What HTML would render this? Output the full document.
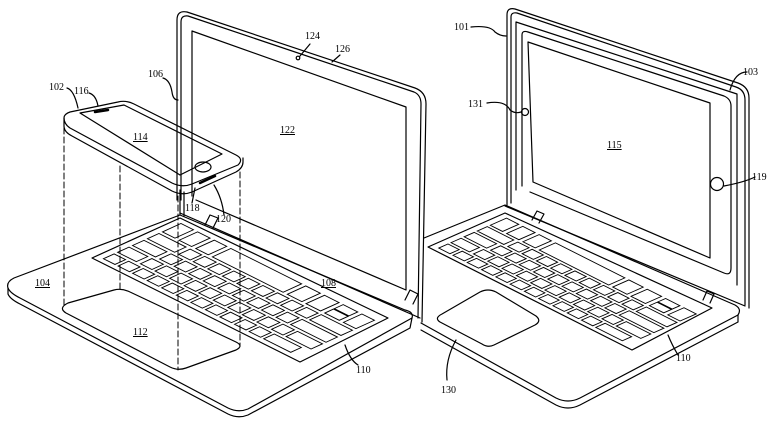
<!DOCTYPE html>
<html><head><style>
html,body{margin:0;padding:0;background:#fff;}
svg{display:block}
text{font-family:"Liberation Serif",serif;font-size:10px;fill:#000}
</style></head><body>
<svg width="780" height="430" viewBox="0 0 780 430" xmlns="http://www.w3.org/2000/svg">
<g fill="none" stroke="#000" stroke-width="1.2" stroke-linejoin="round" stroke-linecap="round">
<!-- RIGHT LAPTOP base (behind left lid) -->
<path d="M424 238 L505 205 L735 305 Q742 309 738 315 L580 398 Q568 404 556 398 L421 323"/>
<path d="M421 330 L556 405 Q568 411 580 405 L738 322 L738 315"/>
<path d="M505 206 L745 306"/>
<path d="M532 220 L537 211 L544 214 L539 223"/>
<path d="M703 300 L707 291 L714 294 L710 303"/>
<path d="M428 247 L505 213 L712 308 L632 350 Z"/>
<path d="M442 314 L480 292 Q488 288 496 292 L536 316 Q542 321 535 325 L494 345 Q488 348 482 344 L440 322 Q434 318 442 314 Z"/>
<!-- RIGHT LAPTOP lid -->
<path d="M507 205 L507 15 Q507 7 515 9 L738 83 Q749 87 749 98 L749 308"/>
<path d="M511 203 L511 17 Q511 12 517 13 L736 87 Q745 90 745 100 L745 305"/>
<path d="M516 190 L516 22 L737 94 L737 285"/>
<path d="M522 186 L522 35 Q522 30 528 32 L724 96 Q731 99 731 106 L731 268 Q731 276 724 273 L530 192"/>
<path d="M528 42 L710 103 L710 258 L533 182 Z"/>
<circle cx="525" cy="112" r="3.5"/>
<circle cx="717" cy="184" r="6.5"/>

<!-- LEFT LAPTOP lid -->
<path d="M177 200 L177 20 Q177 10 187 12 L415 88 Q426 92 426 104 L422 322" fill="#fff"/>
<path d="M181 200 L181 22 Q181 15 188 16 L414 92 Q421 95 421 104 L418 318"/>
<path d="M192 196 L192 31 L406 107 L406 290 L196 200"/>
<!-- left base -->
<path d="M180 215 L14 278 Q6 282 8 288 L8 294 Q10 299 20 304 L228 414 Q238 419 248 415 L410 328 L412 318 Q414 312 405 310 L180 215"/>
<path d="M8 288 Q10 293 20 298 L228 408 Q238 413 248 409 L412 318"/>
<path d="M180 213 L420 318"/>
<path d="M205 225 L210 215 L218 218 L213 228"/>
<path d="M405 300 L410 290 L418 294 L413 304"/>
<path d="M92 258 L180 218 L388 318 L300 362 Z"/>
<path d="M68 303 L114 290 Q122 288 130 292 L236 342 Q244 346 236 350 L186 368 Q178 371 170 367 L66 313 Q58 308 68 303 Z"/>
<!-- phone -->
<path d="M70 112 L118 102 Q126 100 134 104 L236 155 Q244 159 238 165 L192 184 Q182 188 172 183 L70 128 Q64 124 64 118 Q64 114 70 112 Z"/>
<path d="M64 118 L64 126 Q64 132 72 136 L172 191 Q182 196 192 192 L236 172 Q243 168 243 162 L243 158"/>
<path d="M80 113 L124 105 L222 154 L180 175 Z"/>
<ellipse cx="203" cy="167" rx="8" ry="5"/>
<path d="M95 112 L108 110" stroke-width="2.5"/>
<path d="M200 183 L215 176" stroke-width="2.5"/>
<path d="M180 190 L180 215 M184 192 L184 216"/>
<g stroke-dasharray="6 3" stroke-width="1">
<path d="M64 128 L64 305"/><path d="M120 166 L120 290"/><path d="M178 196 L178 370"/><path d="M240 172 L240 345"/>
</g>
<!-- leaders left -->
<path d="M67 88 Q74 90 78 108"/><path d="M89 93 Q96 95 98 106"/>
<path d="M163 78 Q170 80 172 92 Q173 100 178 100"/>
<path d="M310 44 L300 56"/><path d="M340 55 L332 62"/>
<path d="M192 203 L195 188"/><path d="M224 215 Q222 198 214 185"/>
<path d="M358 365 Q350 360 345 345"/>
<circle cx="298" cy="58" r="1.8"/>
<!-- leaders right -->
<path d="M471 27 Q490 25 495 32 Q500 36 506 36"/>
<path d="M747 72 Q735 72 730 90"/>
<path d="M487 103 Q505 100 510 110 Q515 114 521 112"/>
<path d="M755 177 Q745 182 724 186"/>
<path d="M678 355 Q672 345 668 335"/>
<path d="M447 380 Q445 360 456 340"/>
</g>

<g transform="matrix(88,-40,208,104,92,258)" fill="none" stroke="#000">
<path id="kp" stroke-width="0.9" vector-effect="non-scaling-stroke" d="
M0.06 0.03h0.12v0.055h-0.12z M0.06 0.10h0.12v0.055h-0.12z M0.06 0.17h0.12v0.055h-0.12z M0.06 0.24h0.12v0.055h-0.12z M0.06 0.31h0.12v0.055h-0.12z M0.06 0.38h0.12v0.055h-0.12z M0.06 0.45h0.12v0.055h-0.12z M0.06 0.52h0.12v0.055h-0.12z M0.06 0.59h0.12v0.055h-0.12z M0.06 0.66h0.12v0.055h-0.12z M0.06 0.73h0.12v0.055h-0.12z M0.06 0.80h0.12v0.13h-0.12z
M0.22 0.03h0.13v0.09h-0.13z M0.22 0.14h0.13v0.055h-0.13z M0.22 0.21h0.13v0.055h-0.13z M0.22 0.28h0.13v0.055h-0.13z M0.22 0.35h0.13v0.055h-0.13z M0.22 0.42h0.13v0.055h-0.13z M0.22 0.49h0.13v0.055h-0.13z M0.22 0.56h0.13v0.055h-0.13z M0.22 0.63h0.13v0.055h-0.13z M0.22 0.70h0.13v0.055h-0.13z M0.22 0.77h0.13v0.055h-0.13z M0.22 0.84h0.13v0.12h-0.13z
M0.39 0.03h0.13v0.11h-0.13z M0.39 0.16h0.13v0.055h-0.13z M0.39 0.23h0.13v0.055h-0.13z M0.39 0.30h0.13v0.055h-0.13z M0.39 0.37h0.13v0.055h-0.13z M0.39 0.44h0.13v0.055h-0.13z M0.39 0.51h0.13v0.055h-0.13z M0.39 0.58h0.13v0.055h-0.13z M0.39 0.65h0.13v0.055h-0.13z M0.39 0.72h0.13v0.055h-0.13z M0.39 0.79h0.13v0.17h-0.13z
M0.56 0.03h0.13v0.13h-0.13z M0.56 0.18h0.13v0.055h-0.13z M0.56 0.25h0.13v0.055h-0.13z M0.56 0.32h0.13v0.055h-0.13z M0.56 0.39h0.13v0.055h-0.13z M0.56 0.46h0.13v0.055h-0.13z M0.56 0.53h0.13v0.055h-0.13z M0.56 0.60h0.13v0.055h-0.13z M0.56 0.67h0.13v0.055h-0.13z M0.56 0.74h0.13v0.055h-0.13z M0.56 0.81h0.13v0.15h-0.13z
M0.73 0.03h0.21v0.06h-0.21z M0.73 0.11h0.21v0.06h-0.21z M0.73 0.19h0.21v0.06h-0.21z M0.73 0.27h0.21v0.34h-0.21z M0.73 0.63h0.21v0.07h-0.21z M0.73 0.72h0.21v0.07h-0.21z M0.73 0.81h0.10v0.07h-0.10z M0.84 0.81h0.10v0.07h-0.10z M0.73 0.90h0.21v0.06h-0.21z"/>
</g>
<g transform="matrix(77,-34,204,103,428,247)" fill="none" stroke="#000">
<path stroke-width="0.9" vector-effect="non-scaling-stroke" d="
M0.06 0.03h0.12v0.055h-0.12z M0.06 0.10h0.12v0.055h-0.12z M0.06 0.17h0.12v0.055h-0.12z M0.06 0.24h0.12v0.055h-0.12z M0.06 0.31h0.12v0.055h-0.12z M0.06 0.38h0.12v0.055h-0.12z M0.06 0.45h0.12v0.055h-0.12z M0.06 0.52h0.12v0.055h-0.12z M0.06 0.59h0.12v0.055h-0.12z M0.06 0.66h0.12v0.055h-0.12z M0.06 0.73h0.12v0.055h-0.12z M0.06 0.80h0.12v0.13h-0.12z
M0.22 0.03h0.13v0.09h-0.13z M0.22 0.14h0.13v0.055h-0.13z M0.22 0.21h0.13v0.055h-0.13z M0.22 0.28h0.13v0.055h-0.13z M0.22 0.35h0.13v0.055h-0.13z M0.22 0.42h0.13v0.055h-0.13z M0.22 0.49h0.13v0.055h-0.13z M0.22 0.56h0.13v0.055h-0.13z M0.22 0.63h0.13v0.055h-0.13z M0.22 0.70h0.13v0.055h-0.13z M0.22 0.77h0.13v0.055h-0.13z M0.22 0.84h0.13v0.12h-0.13z
M0.39 0.03h0.13v0.11h-0.13z M0.39 0.16h0.13v0.055h-0.13z M0.39 0.23h0.13v0.055h-0.13z M0.39 0.30h0.13v0.055h-0.13z M0.39 0.37h0.13v0.055h-0.13z M0.39 0.44h0.13v0.055h-0.13z M0.39 0.51h0.13v0.055h-0.13z M0.39 0.58h0.13v0.055h-0.13z M0.39 0.65h0.13v0.055h-0.13z M0.39 0.72h0.13v0.055h-0.13z M0.39 0.79h0.13v0.17h-0.13z
M0.56 0.03h0.13v0.13h-0.13z M0.56 0.18h0.13v0.055h-0.13z M0.56 0.25h0.13v0.055h-0.13z M0.56 0.32h0.13v0.055h-0.13z M0.56 0.39h0.13v0.055h-0.13z M0.56 0.46h0.13v0.055h-0.13z M0.56 0.53h0.13v0.055h-0.13z M0.56 0.60h0.13v0.055h-0.13z M0.56 0.67h0.13v0.055h-0.13z M0.56 0.74h0.13v0.055h-0.13z M0.56 0.81h0.13v0.15h-0.13z
M0.73 0.03h0.21v0.06h-0.21z M0.73 0.11h0.21v0.06h-0.21z M0.73 0.19h0.21v0.06h-0.21z M0.73 0.27h0.21v0.34h-0.21z M0.73 0.63h0.21v0.07h-0.21z M0.73 0.72h0.21v0.07h-0.21z M0.73 0.81h0.10v0.07h-0.10z M0.84 0.81h0.10v0.07h-0.10z M0.73 0.90h0.21v0.06h-0.21z"/>
</g>

<text x="49" y="90">102</text>
<text x="74" y="94">116</text>
<text x="148" y="77">106</text>
<text x="305" y="39">124</text>
<text x="335" y="52">126</text>
<text x="280" y="133" text-decoration="underline">122</text>
<text x="133" y="140" text-decoration="underline">114</text>
<text x="185" y="211">118</text>
<text x="216" y="222">120</text>
<text x="35" y="286" text-decoration="underline">104</text>
<text x="321" y="286" text-decoration="underline">108</text>
<text x="133" y="335" text-decoration="underline">112</text>
<text x="356" y="373">110</text>
<text x="454" y="30">101</text>
<text x="743" y="75">103</text>
<text x="468" y="107">131</text>
<text x="607" y="148" text-decoration="underline">115</text>
<text x="752" y="180">119</text>
<text x="676" y="361">110</text>
<text x="441" y="393">130</text>
</svg>
</body></html>
